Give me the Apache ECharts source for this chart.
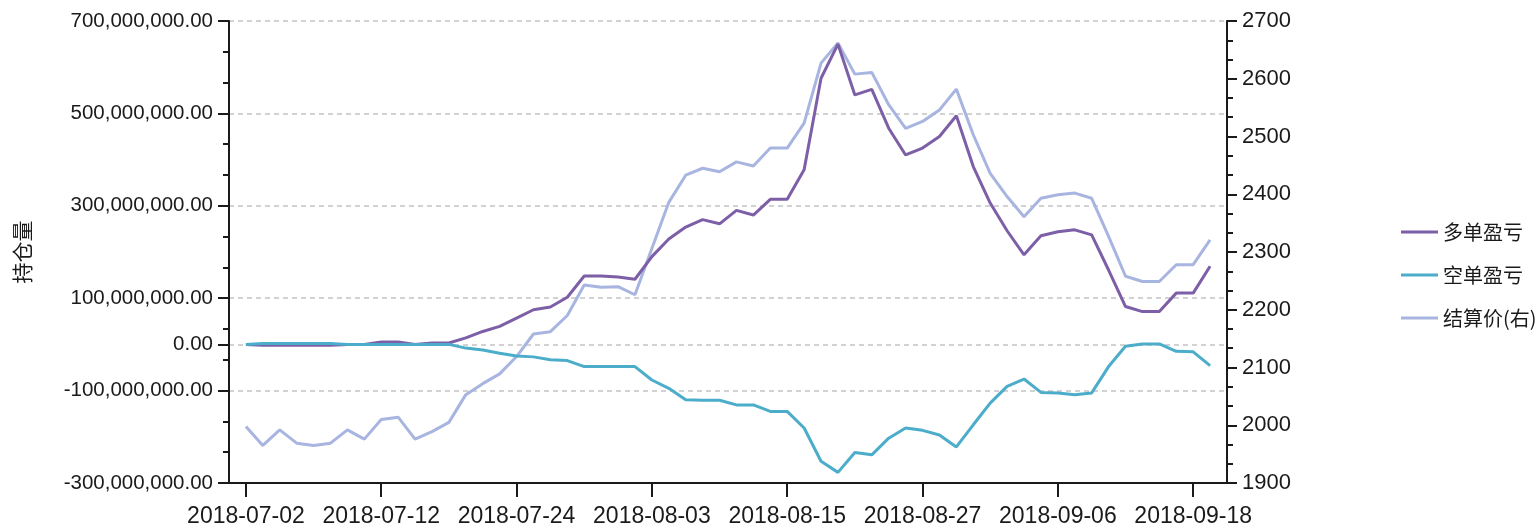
<!DOCTYPE html>
<html>
<head>
<meta charset="utf-8">
<title>持仓量</title>
<script src="https://cdn.jsdelivr.net/npm/echarts@6/dist/echarts.min.js"></script>
<style>
  html, body { margin: 0; padding: 0; background: #fff; }
  #chart { width: 1539px; height: 530px; }
</style>
</head>
<body>
<div id="chart"></div>
<script>
// trading days shown on the x axis
const dates = [
  '2018-07-02','2018-07-03','2018-07-04','2018-07-05','2018-07-06','2018-07-09','2018-07-10','2018-07-11',
  '2018-07-12','2018-07-13','2018-07-16','2018-07-17','2018-07-18','2018-07-19','2018-07-20','2018-07-23',
  '2018-07-24','2018-07-25','2018-07-26','2018-07-27','2018-07-30','2018-07-31','2018-08-01','2018-08-02',
  '2018-08-03','2018-08-06','2018-08-07','2018-08-08','2018-08-09','2018-08-10','2018-08-13','2018-08-14',
  '2018-08-15','2018-08-16','2018-08-17','2018-08-20','2018-08-21','2018-08-22','2018-08-23','2018-08-24',
  '2018-08-27','2018-08-28','2018-08-29','2018-08-30','2018-08-31','2018-09-03','2018-09-04','2018-09-05',
  '2018-09-06','2018-09-07','2018-09-10','2018-09-11','2018-09-12','2018-09-13','2018-09-14','2018-09-17',
  '2018-09-18','2018-09-19'
]

// 多单盈亏 (yuan)
const longPnl = [
  0, -2e6, -2e6, -2e6, -2e6, -2e6, 0, 0, 5e6, 5e6, 0, 3e6, 3e6, 14e6, 28e6, 39e6,
  57e6, 75e6, 81e6, 102e6, 148e6, 148e6, 146e6, 141e6, 190e6, 228e6, 254e6, 270e6, 261e6, 290e6, 280e6, 314e6,
  314e6, 378e6, 576e6, 650e6, 540e6, 552e6, 468e6, 410e6, 425e6, 450e6, 495e6, 385e6, 306e6, 246e6, 194e6, 235e6,
  244e6, 248e6, 237e6, 161e6, 82e6, 71e6, 71e6, 111e6, 111e6, 169e6
]

// 空单盈亏 (yuan)
const shortPnl = [
  0, 2e6, 2e6, 2e6, 2e6, 2e6, 0, 0, 0, 0, 0, 0, 0, -8e6, -12e6, -19e6,
  -25e6, -27e6, -33e6, -35e6, -48e6, -48e6, -48e6, -48e6, -77e6, -95e6, -120e6, -121e6, -121e6, -131e6, -131e6, -145e6,
  -145e6, -181e6, -253e6, -277e6, -234e6, -239e6, -203e6, -181e6, -186e6, -196e6, -222e6, -174e6, -127e6, -91e6, -75e6, -104e6,
  -105e6, -109e6, -105e6, -48e6, -4e6, 1e6, 1e6, -15e6, -16e6, -46e6
]

// 结算价 (right axis)
const settlePrice = [
  1998, 1965, 1992, 1969, 1965, 1969, 1992, 1976, 2010, 2014, 1976, 1989, 2005, 2053, 2072, 2089,
  2119, 2158, 2162, 2190, 2243, 2239, 2240, 2226, 2306, 2386, 2433, 2445, 2439, 2456, 2449, 2480,
  2480, 2523, 2627, 2662, 2608, 2611, 2555, 2514, 2526, 2546, 2582, 2503, 2436, 2396, 2361, 2393,
  2399, 2402, 2393, 2327, 2258, 2249, 2249, 2278, 2278, 2321
]

const seriesNames = ['多单盈亏', '空单盈亏', '结算价(右)']
const leftTickValues = [-3e8, -1e8, 0, 1e8, 3e8, 5e8, 7e8]
const dateLabelStep = 8

const ink = '#1a1a1a'
const latin = "'Liberation Sans', Arial, sans-serif"
const cjk = "'Noto Sans CJK SC', 'Noto Sans', sans-serif"
const axisStroke = { color: ink, width: 2 }

// one empty slot on each side of the dates so the lines don't touch the axes
const categories = [''].concat(dates, [''])
const pad = arr => [null].concat(arr, [null])
const showDate = index => index >= 1 && (index - 1) % dateLabelStep === 0

const chart = echarts.init(document.getElementById('chart'), null, { renderer: 'canvas' })

chart.setOption({
  animation: false,
  backgroundColor: '#fff',
  grid: { left: 229, right: 312, top: 21, bottom: 47, containLabel: false, outerBoundsMode: 'none' },
  legend: {
    data: seriesNames,
    orient: 'vertical',
    left: 1396,
    top: 217,
    icon: 'rect',
    itemWidth: 37,
    itemHeight: 3,
    itemGap: 23,
    textStyle: { fontFamily: cjk, fontSize: 20, color: ink }
  },
  xAxis: {
    type: 'category',
    data: categories,
    boundaryGap: false,
    axisLine: { onZero: false, lineStyle: axisStroke },
    axisTick: { interval: showDate, length: 14, lineStyle: axisStroke },
    axisLabel: { interval: showDate, hideOverlap: false, fontFamily: latin, fontSize: 23, color: ink, margin: 22 },
    splitLine: { show: false }
  },
  yAxis: [
    {
      type: 'value',
      position: 'left',
      min: -3e8,
      max: 7e8,
      interval: 2e8,
      name: '持仓量',
      nameLocation: 'middle',
      nameGap: 196,
      nameTextStyle: { fontFamily: cjk, fontSize: 21, color: ink },
      axisLine: { show: true, lineStyle: axisStroke },
      axisTick: { show: true, length: 11, lineStyle: axisStroke, customValues: leftTickValues },
      minorTick: { show: true, splitNumber: 3, length: 6, lineStyle: axisStroke },
      axisLabel: {
        customValues: leftTickValues,
        fontFamily: latin,
        fontSize: 20.5,
        color: ink,
        margin: 16,
        formatter: v => Number(v).toLocaleString('en-US', { minimumFractionDigits: 2, maximumFractionDigits: 2 })
      },
      splitLine: { show: true, lineStyle: { type: [5, 4], color: '#c4c4c4', width: 1.5 } }
    },
    {
      type: 'value',
      position: 'right',
      min: 1900,
      max: 2700,
      interval: 100,
      axisLine: { show: true, lineStyle: axisStroke },
      axisTick: { show: true, length: 10, lineStyle: axisStroke },
      minorTick: { show: true, splitNumber: 3, length: 6, lineStyle: axisStroke },
      axisLabel: { fontFamily: latin, fontSize: 22, color: ink, margin: 15, formatter: v => String(v) },
      splitLine: { show: false }
    }
  ],
  series: [
    {
      name: seriesNames[2],
      type: 'line',
      yAxisIndex: 1,
      data: pad(settlePrice),
      symbol: 'none',
      lineStyle: { color: '#a8b5e0', width: 3 },
      itemStyle: { color: '#a8b5e0' }
    },
    {
      name: seriesNames[0],
      type: 'line',
      yAxisIndex: 0,
      data: pad(longPnl),
      symbol: 'none',
      lineStyle: { color: '#7d5fa7', width: 3 },
      itemStyle: { color: '#7d5fa7' }
    },
    {
      name: seriesNames[1],
      type: 'line',
      yAxisIndex: 0,
      data: pad(shortPnl),
      symbol: 'none',
      lineStyle: { color: '#4badca', width: 3 },
      itemStyle: { color: '#4badca' }
    }
  ]
})
</script>
</body>
</html>
